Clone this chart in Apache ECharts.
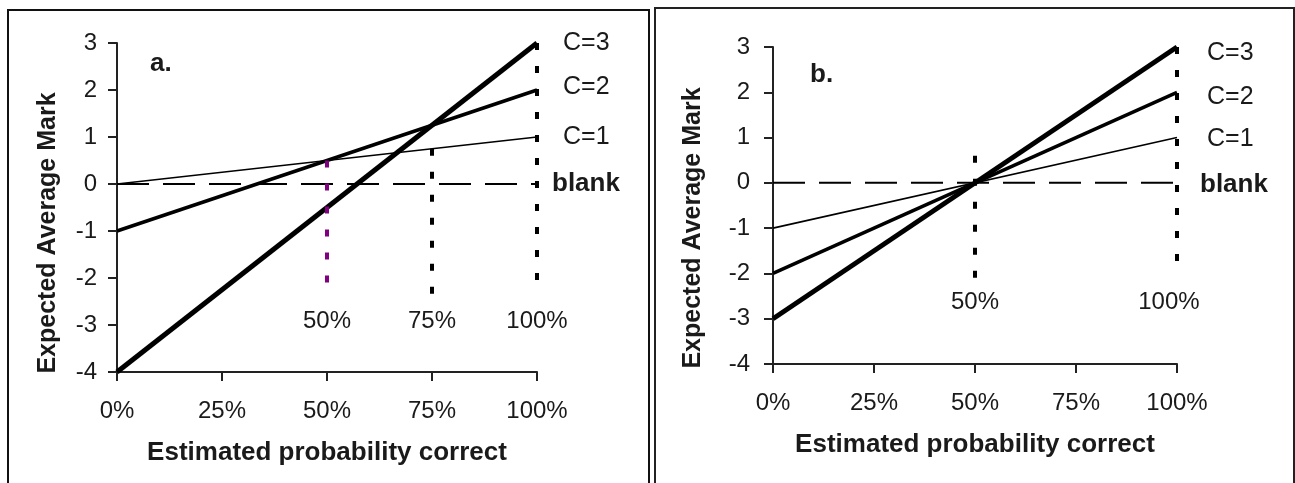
<!DOCTYPE html>
<html>
<head>
<meta charset="utf-8">
<script src="https://cdn.jsdelivr.net/npm/echarts@6/dist/echarts.min.js"></script>
<style>
html,body{margin:0;padding:0;background:#fff;}
#chart{width:1295px;height:483px;}
</style>
</head>
<body>
<div id="chart"></div>
<script>
// ---- data ----
const xTickLabels = ['0%', '25%', '50%', '75%', '100%'];
const yTicks = [-4, -3, -2, -1, 0, 1, 2, 3];

// panel a
const aC1 = [[0, 0], [1, 1]];
const aC2 = [[0, -1], [1, 2]];
const aC3 = [[0, -4], [1, 3]];
const aBlank = [[0, 0], [1, 0]];
const aGuide50 = [[0.5, 0.5], [0.5, -2.2]];
const aGuide75 = [[0.75, 0.75], [0.75, -2.4]];
const aGuide100 = [[1, 3], [1, -2.15]];
const aRefLabels = [[0.5, -2.93, '50%'], [0.75, -2.93, '75%'], [1, -2.93, '100%']];

// panel b
const bC1 = [[0, -1], [1, 1]];
const bC2 = [[0, -2], [1, 2]];
const bC3 = [[0, -3], [1, 3]];
const bBlank = [[0, 0], [1, 0]];
const bGuide50 = [[0.5, 0.6], [0.5, -2.1]];
const bGuide100 = [[1, 3], [1, -1.9]];
const bRefLabels = [[0.5, -2.65, '50%'], [0.98, -2.65, '100%']];

const FONT = "'Liberation Sans', Arial, sans-serif";
const TXT = '#1a1a1a';

const chart = echarts.init(document.getElementById('chart'));

function xAxisCfg(gridIndex, margin) {
  return {
    type: 'value', gridIndex, min: 0, max: 1, interval: 0.25,
    axisLine: { onZero: false, lineStyle: { color: '#222', width: 2 } },
    axisTick: { length: 9, lineStyle: { color: '#222', width: 2 } },
    splitLine: { show: false },
    axisLabel: {
      margin, fontSize: 24, color: TXT, fontFamily: FONT,
      formatter: v => xTickLabels[Math.round(v / 0.25)]
    },
    name: 'Estimated probability correct', nameLocation: 'middle', nameGap: 68,
    nameTextStyle: { fontSize: 26, fontWeight: 'bold', color: TXT, fontFamily: FONT }
  };
}
function yAxisCfg(gridIndex, margin) {
  return {
    type: 'value', gridIndex, min: yTicks[0], max: yTicks[yTicks.length - 1], interval: 1,
    axisLine: { onZero: false, lineStyle: { color: '#222', width: 2 } },
    axisTick: { length: 9, lineStyle: { color: '#222', width: 2 } },
    splitLine: { show: false },
    axisLabel: { margin, fontSize: 24, color: TXT, fontFamily: FONT }
  };
}

function lineSeries(data, xi, width, label, dist, dy, bold) {
  return {
    type: 'line', xAxisIndex: xi, yAxisIndex: xi, data, symbol: 'none',
    lineStyle: { color: '#000', width },
    silent: true,
    endLabel: {
      show: true, formatter: label, distance: dist, offset: [0, dy],
      fontSize: bold ? 26 : 25, fontWeight: bold ? 'bold' : 'normal', color: TXT, fontFamily: FONT
    }
  };
}
function blankSeries(data, xi, dist, dy) {
  const s = lineSeries(data, xi, 2, 'blank', dist, dy, true);
  s.lineStyle.type = [32, 14];
  return s;
}
function guideSeries(data, xi, color) {
  return {
    type: 'line', xAxisIndex: xi, yAxisIndex: xi, data, symbol: 'none', silent: true,
    lineStyle: { color, width: 4, type: [7, 16] }
  };
}
function refLabelSeries(data, xi) {
  return {
    type: 'scatter', xAxisIndex: xi, yAxisIndex: xi, silent: true,
    symbolSize: 1,
    itemStyle: { opacity: 1, color: 'rgba(0,0,0,0)' },
    data: data.map(d => ({ value: [d[0], d[1]], name: d[2] })),
    label: {
      show: true, position: 'inside', formatter: p => p.name,
      fontSize: 24, color: TXT, opacity: 1, fontFamily: FONT
    }
  };
}

const option = {
  animation: false,
  backgroundColor: '#fff',
  grid: [
    { left: 117, top: 43, width: 420, height: 329 },
    { left: 773, top: 47, width: 404, height: 317 }
  ],
  xAxis: [xAxisCfg(0, 27), xAxisCfg(1, 27)],
  yAxis: [yAxisCfg(0, 20), yAxisCfg(1, 23)],
  series: [
    blankSeries(aBlank, 0, 15, 0),
    lineSeries(aC1, 0, 1.6, 'C=1', 26, 0),
    lineSeries(aC2, 0, 3.5, 'C=2', 26, -3),
    lineSeries(aC3, 0, 5, 'C=3', 26, 0),
    guideSeries(aGuide50, 0, '#800080'),
    guideSeries(aGuide75, 0, '#000'),
    guideSeries(aGuide100, 0, '#000'),
    refLabelSeries(aRefLabels, 0),

    blankSeries(bBlank, 1, 23, 2),
    lineSeries(bC1, 1, 1.6, 'C=1', 30, 2),
    lineSeries(bC2, 1, 3.5, 'C=2', 30, 5),
    lineSeries(bC3, 1, 5, 'C=3', 30, 6),
    guideSeries(bGuide50, 1, '#000'),
    guideSeries(bGuide100, 1, '#000'),
    refLabelSeries(bRefLabels, 1)
  ],
  graphic: [
    { type: 'rect', shape: { x: 8, y: 10, width: 641, height: 600 }, style: { fill: 'none', stroke: '#111', lineWidth: 2 }, silent: true },
    { type: 'rect', shape: { x: 655, y: 8, width: 639, height: 600 }, style: { fill: 'none', stroke: '#222', lineWidth: 2 }, silent: true },
    { type: 'text', x: 150, y: 64, style: { text: 'a.', fill: TXT, font: "bold 26px 'Liberation Sans', Arial, sans-serif", textVerticalAlign: 'middle' } },
    { type: 'text', x: 810, y: 75, style: { text: 'b.', fill: TXT, font: "bold 26px 'Liberation Sans', Arial, sans-serif", textVerticalAlign: 'middle' } },
    { type: 'text', x: 48, y: 233, rotation: Math.PI / 2, style: { text: 'Expected Average Mark', fill: TXT, font: "bold 25px 'Liberation Sans', Arial, sans-serif", textAlign: 'center', textVerticalAlign: 'middle' } },
    { type: 'text', x: 693, y: 228, rotation: Math.PI / 2, style: { text: 'Expected Average Mark', fill: TXT, font: "bold 25px 'Liberation Sans', Arial, sans-serif", textAlign: 'center', textVerticalAlign: 'middle' } }
  ]
};
chart.setOption(option);
</script>
</body>
</html>
